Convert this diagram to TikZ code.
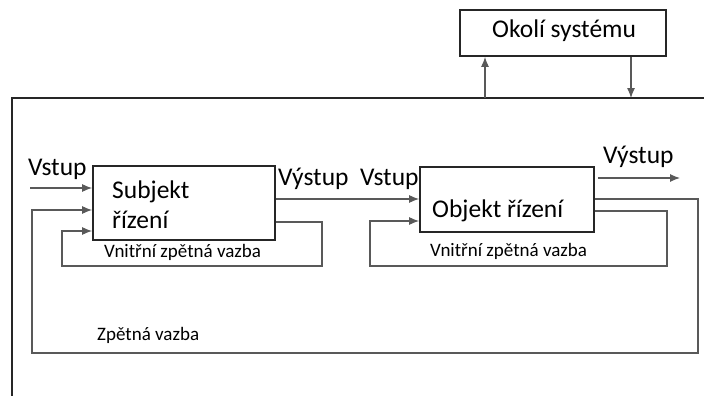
\documentclass[tikz,border=0pt]{standalone}
\usepackage{fontspec}
\setmainfont{Carlito}
\usetikzlibrary{positioning,arrows.meta}

\begin{document}
\begin{tikzpicture}[
  x=1pt, y=-1pt,
  blok/.style={draw=black!85, line width=1.8pt, inner sep=0pt},
  popis/.style={inner sep=0pt, anchor=base west, font=\fontsize{25.5}{28}\selectfont},
  maly/.style={inner sep=0pt, anchor=base west, font=\fontsize{19}{22}\selectfont},
  sipka/.style={-{Latex[length=10pt,width=8pt]}, line width=1.1pt, draw=black!65},
]
\useasboundingbox (0,0) rectangle (704,396);
% system boundary
\coordinate (sysTL) at (12,98);
\draw[line width=1.6pt, black!85] (704,98) -- (sysTL) -- (12,396);
% boxes
\node[blok, minimum width=206pt, minimum height=46pt] (okoli) at (563,33) {};
\node[blok, minimum width=182pt, minimum height=74pt] (subjekt) at (184,203) {};
\node[blok, minimum width=174pt, minimum height=65pt] (objekt) at (507,199.5) {};
% texts
\node[popis] (okoliT) at (492,38) {Okolí systému};
\node[popis] (subjektT) at (112,198) {Subjekt};
\node[popis] (rizeniT) at (112,228) {řízení};
\node[popis] (objektT) at (432,217) {Objekt řízení};
\node[popis] (vstup1) at (28,175) {Vstup};
\node[popis] (vystup1) at (278,185) {Výstup};
\node[popis] (vstup2) at (360,185) {Vstup};
\node[popis] (vystup2) at (603,163) {Výstup};
\node[maly] (vnitrni1) at (104,257) {Vnitřní zpětná vazba};
\node[maly] (vnitrni2) at (430,256) {Vnitřní zpětná vazba};
\node[maly] (zpetna) at (97,340) {Zpětná vazba};
% free ends and corners
\coordinate (in1) at (30,188);
\coordinate (out2) at (680,178);
\coordinate (fbR) at (698,199);
\coordinate (fbL) at (32,353);
\coordinate (v1R) at (322,222);
\coordinate (v1L) at (62,266);
\coordinate (v2R) at (667,211);
\coordinate (v2L) at (370,266);
% connectors
\draw[sipka] (in1) -- (subjekt.west |- in1);
\draw[sipka] (subjekt.east |- 0,199) -- (objekt.west |- 0,199);
\draw[sipka] (objekt.east |- out2) ++(3,0) -- (out2);
\draw[sipka] (objekt.east |- fbR) -- (fbR) |- (fbL) |- (subjekt.west |- 0,210);
\draw[sipka] (subjekt.east |- v1R) -- (v1R) |- (v1L) |- (subjekt.west |- 0,231);
\draw[sipka] (objekt.east |- v2R) -- (v2R) |- (v2L) |- (objekt.west |- 0,221);
\draw[sipka] (sysTL -| 485,0) -- (okoli.south -| 485,0);
\draw[sipka] (okoli.south -| 631,0) -- (sysTL -| 631,0);
\end{tikzpicture}
\end{document}
